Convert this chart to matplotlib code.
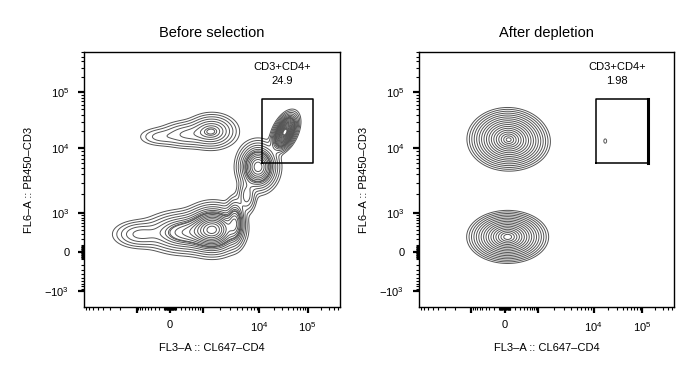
import numpy as np
import matplotlib.pyplot as plt

plt.rcParams['font.family'] = ['Liberation Sans', 'DejaVu Sans']
plt.rcParams['mathtext.fontset'] = 'custom'
plt.rcParams['mathtext.rm'] = 'Liberation Sans'
plt.rcParams['mathtext.it'] = 'Liberation Sans:italic'

# populations: centre (fluorescence value), spread (display decades),
# correlation and relative peak height
before_x = [1430, 335, -183, 33900, 9480, 5970, 1500, 293, -822, 3720]
before_y = [20100, 17700, 16100, 19500, 5220, 1880, 410, 340, 300, 620]
before_sx = [0.32, 0.37, 0.32, 0.148, 0.24, 0.13, 0.34, 0.50, 0.36, 0.13]
before_sy = [0.19, 0.16, 0.12, 0.183, 0.25, 0.21, 0.25, 0.22, 0.16, 0.26]
before_rho = [0.0, 0.0, 0.0, 0.45, 0.0, 0.0, 0.0, 0.0, 0.0, 0.0]
before_peak = [0.15, 0.064, 0.026, 1.0, 0.45, 0.078, 0.6, 0.22, 0.07, 0.24]

after_x = [52, 300, 52, 17400]
after_y = [14600, 11500, 247, 13500]
after_sx = [0.45, 0.40, 0.45, 0.067]
after_sy = [0.30, 0.25, 0.25, 0.087]
after_rho = [0.0, 0.0, 0.0, 0.0]
after_peak = [1.0, 0.12, 1.05, 0.03]

titles = ['Before selection', 'After depletion']
gate_name = 'CD3+CD4+'
gate_pct = ['24.9', '1.98']
gate_x = [11200, 135000]
gate_y = [5900, 75000]

x_label = 'FL3–A :: CL647–CD4'
y_label = 'FL6–A :: PB450–CD3'

# FlowJo-like biexponential axis
COF = 300.0
ANCHOR_V = np.array([0, 1e3, 1e4, 1e5, 1e6, 1e7])
ANCHOR_T = np.array([0, 1.0, 2.68, 4.13, 5.45, 6.75])
ANCHOR_U = np.arcsinh(ANCHOR_V / COF)


def fwd(v):
    v = np.asarray(v, dtype=float)
    u = np.arcsinh(np.abs(v) / COF)
    return np.sign(v) * np.interp(u, ANCHOR_U, ANCHOR_T)


def inv(t):
    t = np.asarray(t, dtype=float)
    u = np.interp(np.abs(t), ANCHOR_T, ANCHOR_U)
    return np.sign(t) * COF * np.sinh(u)


XT_LIM = (-2.58, 5.10)
YT_LIM = (-1.42, 5.17)

major = [-1e3, 0, 1e3, 1e4, 1e5]
x_major_labels = ['', '0', '', '$10^4$', '$10^5$']
y_major_labels = ['$-10^3$', '0', '$10^3$', '$10^4$', '$10^5$']
minor = []
for step, lo, hi in [(10, 10, 90), (100, 100, 900), (1000, 2000, 9000)]:
    for m in range(lo, hi + 1, step):
        minor += [m, -m]
for k in (4, 5):
    minor += [m * 10 ** k for m in range(2, 10)]
minor += [-1e4]


def density(xs, ys, sxs, sys_, rhos, peaks, gx, gy):
    z = np.zeros_like(gx)
    for x, y, sx, sy, r, p in zip(xs, ys, sxs, sys_, rhos, peaks):
        dx = (gx - fwd(x)) / sx
        dy = (gy - fwd(y)) / sy
        q = (dx ** 2 - 2 * r * dx * dy + dy ** 2) / (1 - r ** 2)
        z += p * np.exp(-0.5 * q)
    return z / z.max()


fig = plt.figure(figsize=(6.95, 3.72), dpi=100)
axes = [fig.add_axes([84 / 695, 65 / 372, 256 / 695, 255 / 372]),
        fig.add_axes([419 / 695, 65 / 372, 255 / 695, 255 / 372])]

tx = np.linspace(XT_LIM[0], XT_LIM[1], 360)
ty = np.linspace(YT_LIM[0], YT_LIM[1], 340)
GX, GY = np.meshgrid(tx, ty)

pops = [(before_x, before_y, before_sx, before_sy, before_rho, before_peak),
        (after_x, after_y, after_sx, after_sy, after_rho, after_peak)]

# rings evenly spaced in Gaussian radius; in the left plot the sparse rings of the
# weak populations sit below 0.15 and the dense ones (big populations) above it
ring_r = 2.75 * (1 - np.arange(17) / 17)
right_levels = np.exp(-0.5 * ring_r ** 2)
sparse_r = np.linspace(2.6, 0.4, 8)
dense_r = np.linspace(1.95, 0.4, 14)
left_levels = np.concatenate([0.15 * np.exp(-0.5 * sparse_r ** 2),
                              np.exp(-0.5 * dense_r ** 2)])
panel_levels = [left_levels, right_levels]

for i, ax in enumerate(axes):
    ax.set_xscale('function', functions=(fwd, inv))
    ax.set_yscale('function', functions=(fwd, inv))
    Z = density(*pops[i], GX, GY)
    ax.contour(inv(GX), inv(GY), Z, levels=panel_levels[i], colors='#555555',
               linewidths=0.7)

    ax.plot([gate_x[0], gate_x[1], gate_x[1], gate_x[0], gate_x[0]],
            [gate_y[0], gate_y[0], gate_y[1], gate_y[1], gate_y[0]],
            color='black', lw=1.1)
    if i == 1:
        ax.plot([gate_x[1], gate_x[1]], gate_y, color='black', lw=2.2)

    ax.set_xlim(inv(XT_LIM[0]), inv(XT_LIM[1]))
    ax.set_ylim(inv(YT_LIM[0]), inv(YT_LIM[1]))

    ax.set_xticks(major)
    ax.set_xticklabels(x_major_labels)
    ax.set_yticks(major)
    ax.set_yticklabels(y_major_labels)
    xlo, xhi = ax.get_xlim()
    ylo, yhi = ax.get_ylim()
    ax.set_xticks([m for m in minor if xlo < m < xhi], minor=True)
    ax.set_yticks([m for m in minor if ylo < m < yhi], minor=True)
    ax.tick_params(which='major', length=4.5, width=1.6, labelsize=8)
    ax.tick_params(axis='x', which='major', pad=5)
    ax.tick_params(axis='y', which='major', pad=6)
    ax.tick_params(which='minor', length=2.5, width=0.8)
    for s in ax.spines.values():
        s.set_linewidth(1.0)

    ax.text(0.5, 1.075, titles[i], transform=ax.transAxes, ha='center', va='center',
            fontsize=10.5)
    ax.text(0.776, 0.941, gate_name, transform=ax.transAxes, ha='center', va='center',
            fontsize=8)
    ax.text(0.776, 0.888, gate_pct[i], transform=ax.transAxes, ha='center', va='center',
            fontsize=8)
    ax.text(0.5, -0.161, x_label, transform=ax.transAxes, ha='center', va='center',
            fontsize=8)
    ax.text(-0.215, 0.5, y_label, transform=ax.transAxes, ha='center', va='center',
            rotation=90, fontsize=8)

fig.savefig('out.png', dpi=100)
